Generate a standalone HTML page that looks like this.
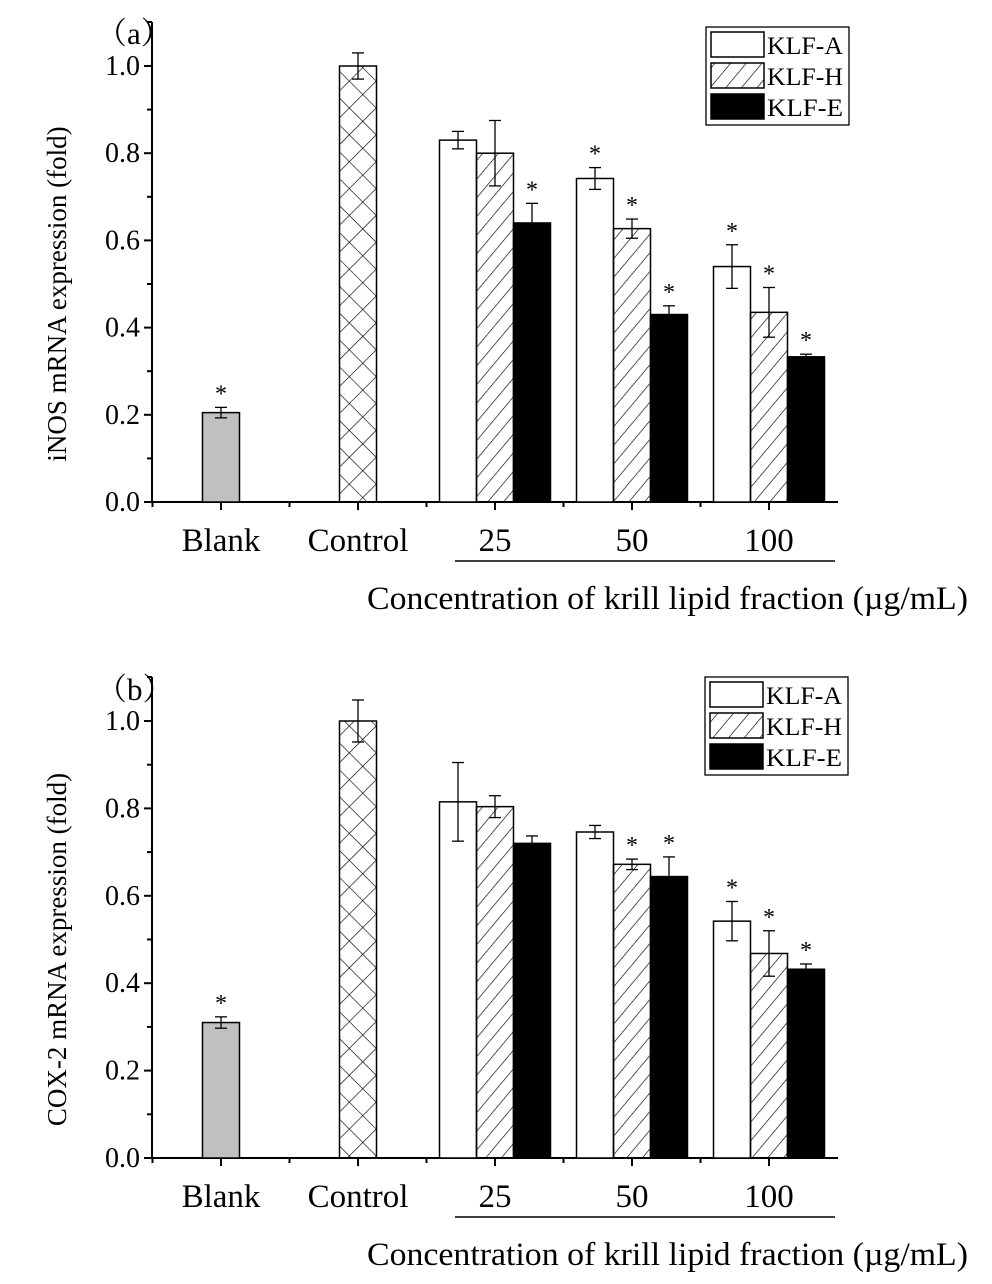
<!DOCTYPE html>
<html><head><meta charset="utf-8"><style>
body{margin:0;background:#fff;}
svg{display:block;font-family:"Liberation Serif","Noto Serif CJK SC",serif;}
</style></head><body>
<svg id="fig" width="992" height="1284" viewBox="0 0 992 1284" xmlns="http://www.w3.org/2000/svg">
<defs>
<pattern id="hatch" patternUnits="userSpaceOnUse" width="12" height="12" patternTransform="rotate(40)">
<line x1="0" y1="0" x2="0" y2="12" stroke="#000" stroke-width="1.3"/></pattern>
<pattern id="cross" patternUnits="userSpaceOnUse" width="19" height="19" patternTransform="rotate(45)">
<line x1="0" y1="0" x2="0" y2="19" stroke="#000" stroke-width="1.3"/><line x1="0" y1="0" x2="19" y2="0" stroke="#000" stroke-width="1.3"/></pattern>
</defs>
</svg>
<script>
const categories=["Blank","Control","25","50","100"];
const series=["KLF-A","KLF-H","KLF-E"];
const yTicks=[0.0,0.2,0.4,0.6,0.8,1.0];
const aSingle=[0.205,1.0];
const aSingleErr=[0.012,0.03];
const aSingleStar=[true,false];
const aA=[0.83,0.742,0.54], aAerr=[0.02,0.025,0.05], aAstar=[false,true,true];
const aH=[0.80,0.627,0.435], aHerr=[0.075,0.022,0.057], aHstar=[false,true,true];
const aE=[0.64,0.43,0.333], aEerr=[0.045,0.02,0.006], aEstar=[true,true,true];
const bSingle=[0.31,1.0];
const bSingleErr=[0.013,0.048];
const bSingleStar=[true,false];
const bA=[0.815,0.746,0.542], bAerr=[0.09,0.015,0.045], bAstar=[false,false,true];
const bH=[0.804,0.672,0.468], bHerr=[0.025,0.012,0.052], bHstar=[false,true,true];
const bE=[0.72,0.644,0.432], bEerr=[0.017,0.045,0.012], bEstar=[false,true,true];

const svg=document.getElementById('fig');
const NS='http://www.w3.org/2000/svg';
function mk(tag,attrs,parent,txt){const e=document.createElementNS(NS,tag);for(const k in attrs)e.setAttribute(k,attrs[k]);if(txt!==undefined)e.textContent=txt;(parent||svg).appendChild(e);return e;}

function panel(p){
  const g=mk('g',{});
  
  
  const y=v=>p.y0-v*p.k;
  const x0=152, step=137, xEnd=838;
  const cx=i=>221+i*step;
  mk('text',{x:96,y:p.y0-458,'font-size':31},g,p.label);
  mk('line',{x1:x0,y1:p.top,x2:x0,y2:p.y0,stroke:'#000','stroke-width':2},g);
  mk('line',{x1:x0,y1:p.y0,x2:xEnd,y2:p.y0,stroke:'#000','stroke-width':2},g);
  for(let v=0;v<=1.0001;v+=0.1){const t=Math.round(v*10)%2===0;mk('line',{x1:x0-(t?8:5),y1:y(v),x2:x0,y2:y(v),stroke:'#000','stroke-width':2},g);}
  mk('line',{x1:x0-5,y1:p.top,x2:x0,y2:p.top,stroke:'#000','stroke-width':2},g);
  yTicks.forEach(v=>{const t=mk('text',{x:x0-12,y:y(v)+9,'font-size':28,'text-anchor':'end'},g,v.toFixed(1));
    });
  const yt=mk('text',{x:0,y:0,'font-size':27,'text-anchor':'middle',transform:`translate(${x0-86},${y(0.5)+10}) rotate(-90)`},g,p.ytitle);
  
  categories.forEach((c,i)=>{
    mk('line',{x1:cx(i),y1:p.y0,x2:cx(i),y2:p.y0+8,stroke:'#000','stroke-width':2},g);
    mk('line',{x1:cx(i)-step/2,y1:p.y0,x2:cx(i)-step/2,y2:p.y0+5,stroke:'#000','stroke-width':2},g);
    const t=mk('text',{x:cx(i),y:p.y0+49,'font-size':33,'text-anchor':'middle'},g,c);
    
  });
  mk('line',{x1:455,y1:p.y0+59,x2:835,y2:p.y0+59,stroke:'#000','stroke-width':1.5},g);
  const xt=mk('text',{x:367,y:p.y0+107,'font-size':33,textLength:601,lengthAdjust:'spacingAndGlyphs'},g,'Concentration of krill lipid fraction (\u00b5g/mL)');
  
  const bw=37;
  function bar(xc,v,err,star,fill,name){
    const r=mk('rect',{x:xc-bw/2,y:y(v),width:bw,height:v*p.k,fill:fill,stroke:'#000','stroke-width':1.5},g);
    
    mk('line',{x1:xc,y1:y(v+err),x2:xc,y2:y(v-err),stroke:'#000','stroke-width':1.3},g);
    mk('line',{x1:xc-6,y1:y(v+err),x2:xc+6,y2:y(v+err),stroke:'#000','stroke-width':1.3},g);
    mk('line',{x1:xc-6,y1:y(v-err),x2:xc+6,y2:y(v-err),stroke:'#000','stroke-width':1.3},g);
    if(star)mk('text',{x:xc,y:y(v+err)-6,'font-size':24,'text-anchor':'middle'},g,'*');
  }
  bar(cx(0),p.single[0],p.singleErr[0],p.singleStar[0],'#c0c0c0','bar-blank');
  bar(cx(1),p.single[1],p.singleErr[1],p.singleStar[1],'url(#cross)','bar-control');
  const fills=['#fff','url(#hatch)','#000'];
  for(let j=0;j<3;j++){
    const xc=cx(j+2);
    bar(xc-bw,p.A[j],p.Aerr[j],p.Astar[j],fills[0],'bar-klf-a-'+categories[j+2]);
    bar(xc,p.H[j],p.Herr[j],p.Hstar[j],fills[1],'bar-klf-h-'+categories[j+2]);
    bar(xc+bw,p.E[j],p.Eerr[j],p.Estar[j],fills[2],'bar-klf-e-'+categories[j+2]);
  }
  const lg=mk('g',{},g);
  
  const lx=p.legX, ly=p.legY;
  mk('rect',{x:lx,y:ly,width:143,height:98,fill:'#fff',stroke:'#000','stroke-width':1.3},lg);
  series.forEach((s,i)=>{
    const e=mk('g',{},lg);
    
    mk('rect',{x:lx+5,y:ly+5+i*31,width:53,height:25,fill:fills[i],stroke:'#000','stroke-width':1.5},e);
    mk('text',{x:lx+61,y:ly+27+i*31,'font-size':25,textLength:76,lengthAdjust:'spacingAndGlyphs'},e,s);
  });
}
panel({name:'panel-a-inos',label:'\uff08a\uff09',ytitle:'iNOS mRNA expression (fold)',y0:502,k:436,top:22,
  single:aSingle,singleErr:aSingleErr,singleStar:aSingleStar,A:aA,Aerr:aAerr,Astar:aAstar,H:aH,Herr:aHerr,Hstar:aHstar,E:aE,Eerr:aEerr,Estar:aEstar,legX:706,legY:27});
panel({name:'panel-b-cox2',label:'\uff08b\uff09',ytitle:'COX-2 mRNA expression (fold)',y0:1158,k:437,top:677,
  single:bSingle,singleErr:bSingleErr,singleStar:bSingleStar,A:bA,Aerr:bAerr,Astar:bAstar,H:bH,Herr:bHerr,Hstar:bHstar,E:bE,Eerr:bEerr,Estar:bEstar,legX:705,legY:677});
</script>
</body></html>
